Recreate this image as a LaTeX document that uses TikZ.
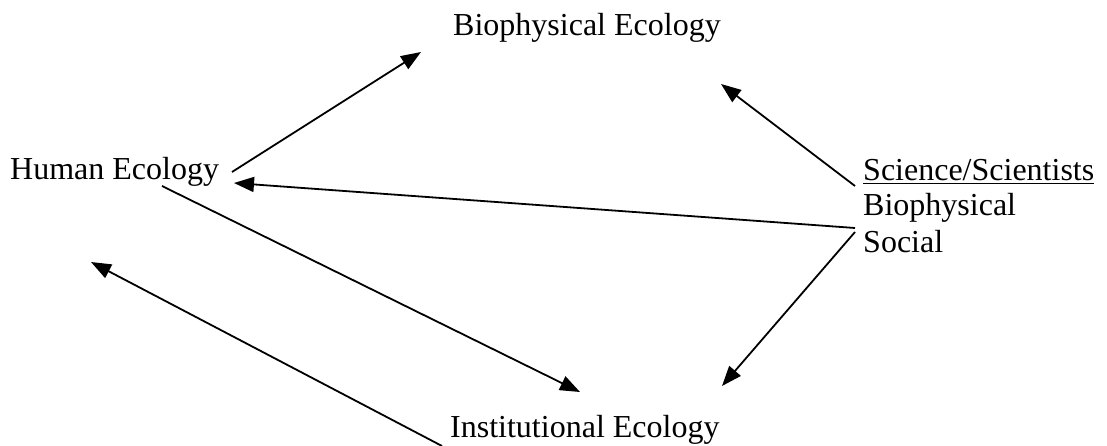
\documentclass[tikz,border=0pt]{standalone}
\usepackage{fontspec}
\setmainfont{Liberation Serif}
\usetikzlibrary{arrows.meta}
\begin{document}
\begin{tikzpicture}[x=1pt,y=-1pt,
  lbl/.style={inner sep=0pt,font=\fontsize{32}{38}\selectfont},
  conn/.style={line width=1.8pt,-{Triangle[length=20pt,width=15pt]}}]
\useasboundingbox (0,0) rectangle (1107,446);
\node[lbl,anchor=base west] (bio) at (453,36) {Biophysical Ecology};
\node[lbl,anchor=base west] (hum) at (10,180) {Human Ecology};
\node[lbl,anchor=base west] (sci) at (863,181) {\underline{Science/Scientists}};
\node[lbl,anchor=base west] (sbio) at (863,216) {Biophysical};
\node[lbl,anchor=base west] (ssoc) at (863,252) {Social};
\node[lbl,anchor=base west] (inst) at (450,437) {Institutional Ecology};
\coordinate (a1s) at (232,172);
\coordinate (a1e) at (421,52);
\coordinate (a2s) at (855,186);
\coordinate (a2e) at (721,84);
\coordinate (a3s) at (855,228);
\coordinate (a3e) at (234,183);
\coordinate (a4s) at (855,232);
\coordinate (a4e) at (722,386);
\coordinate (a5s) at (162,186);
\coordinate (a5e) at (580,392);
\coordinate (a6s) at (442,446);
\coordinate (a6e) at (91,262);
\draw[conn] (a1s) -- (a1e);
\draw[conn] (a2s) -- (a2e);
\draw[conn] (a3s) -- (a3e);
\draw[conn] (a4s) -- (a4e);
\draw[conn] (a5s) -- (a5e);
\draw[conn] (a6s) -- (a6e);
\end{tikzpicture}
\end{document}
